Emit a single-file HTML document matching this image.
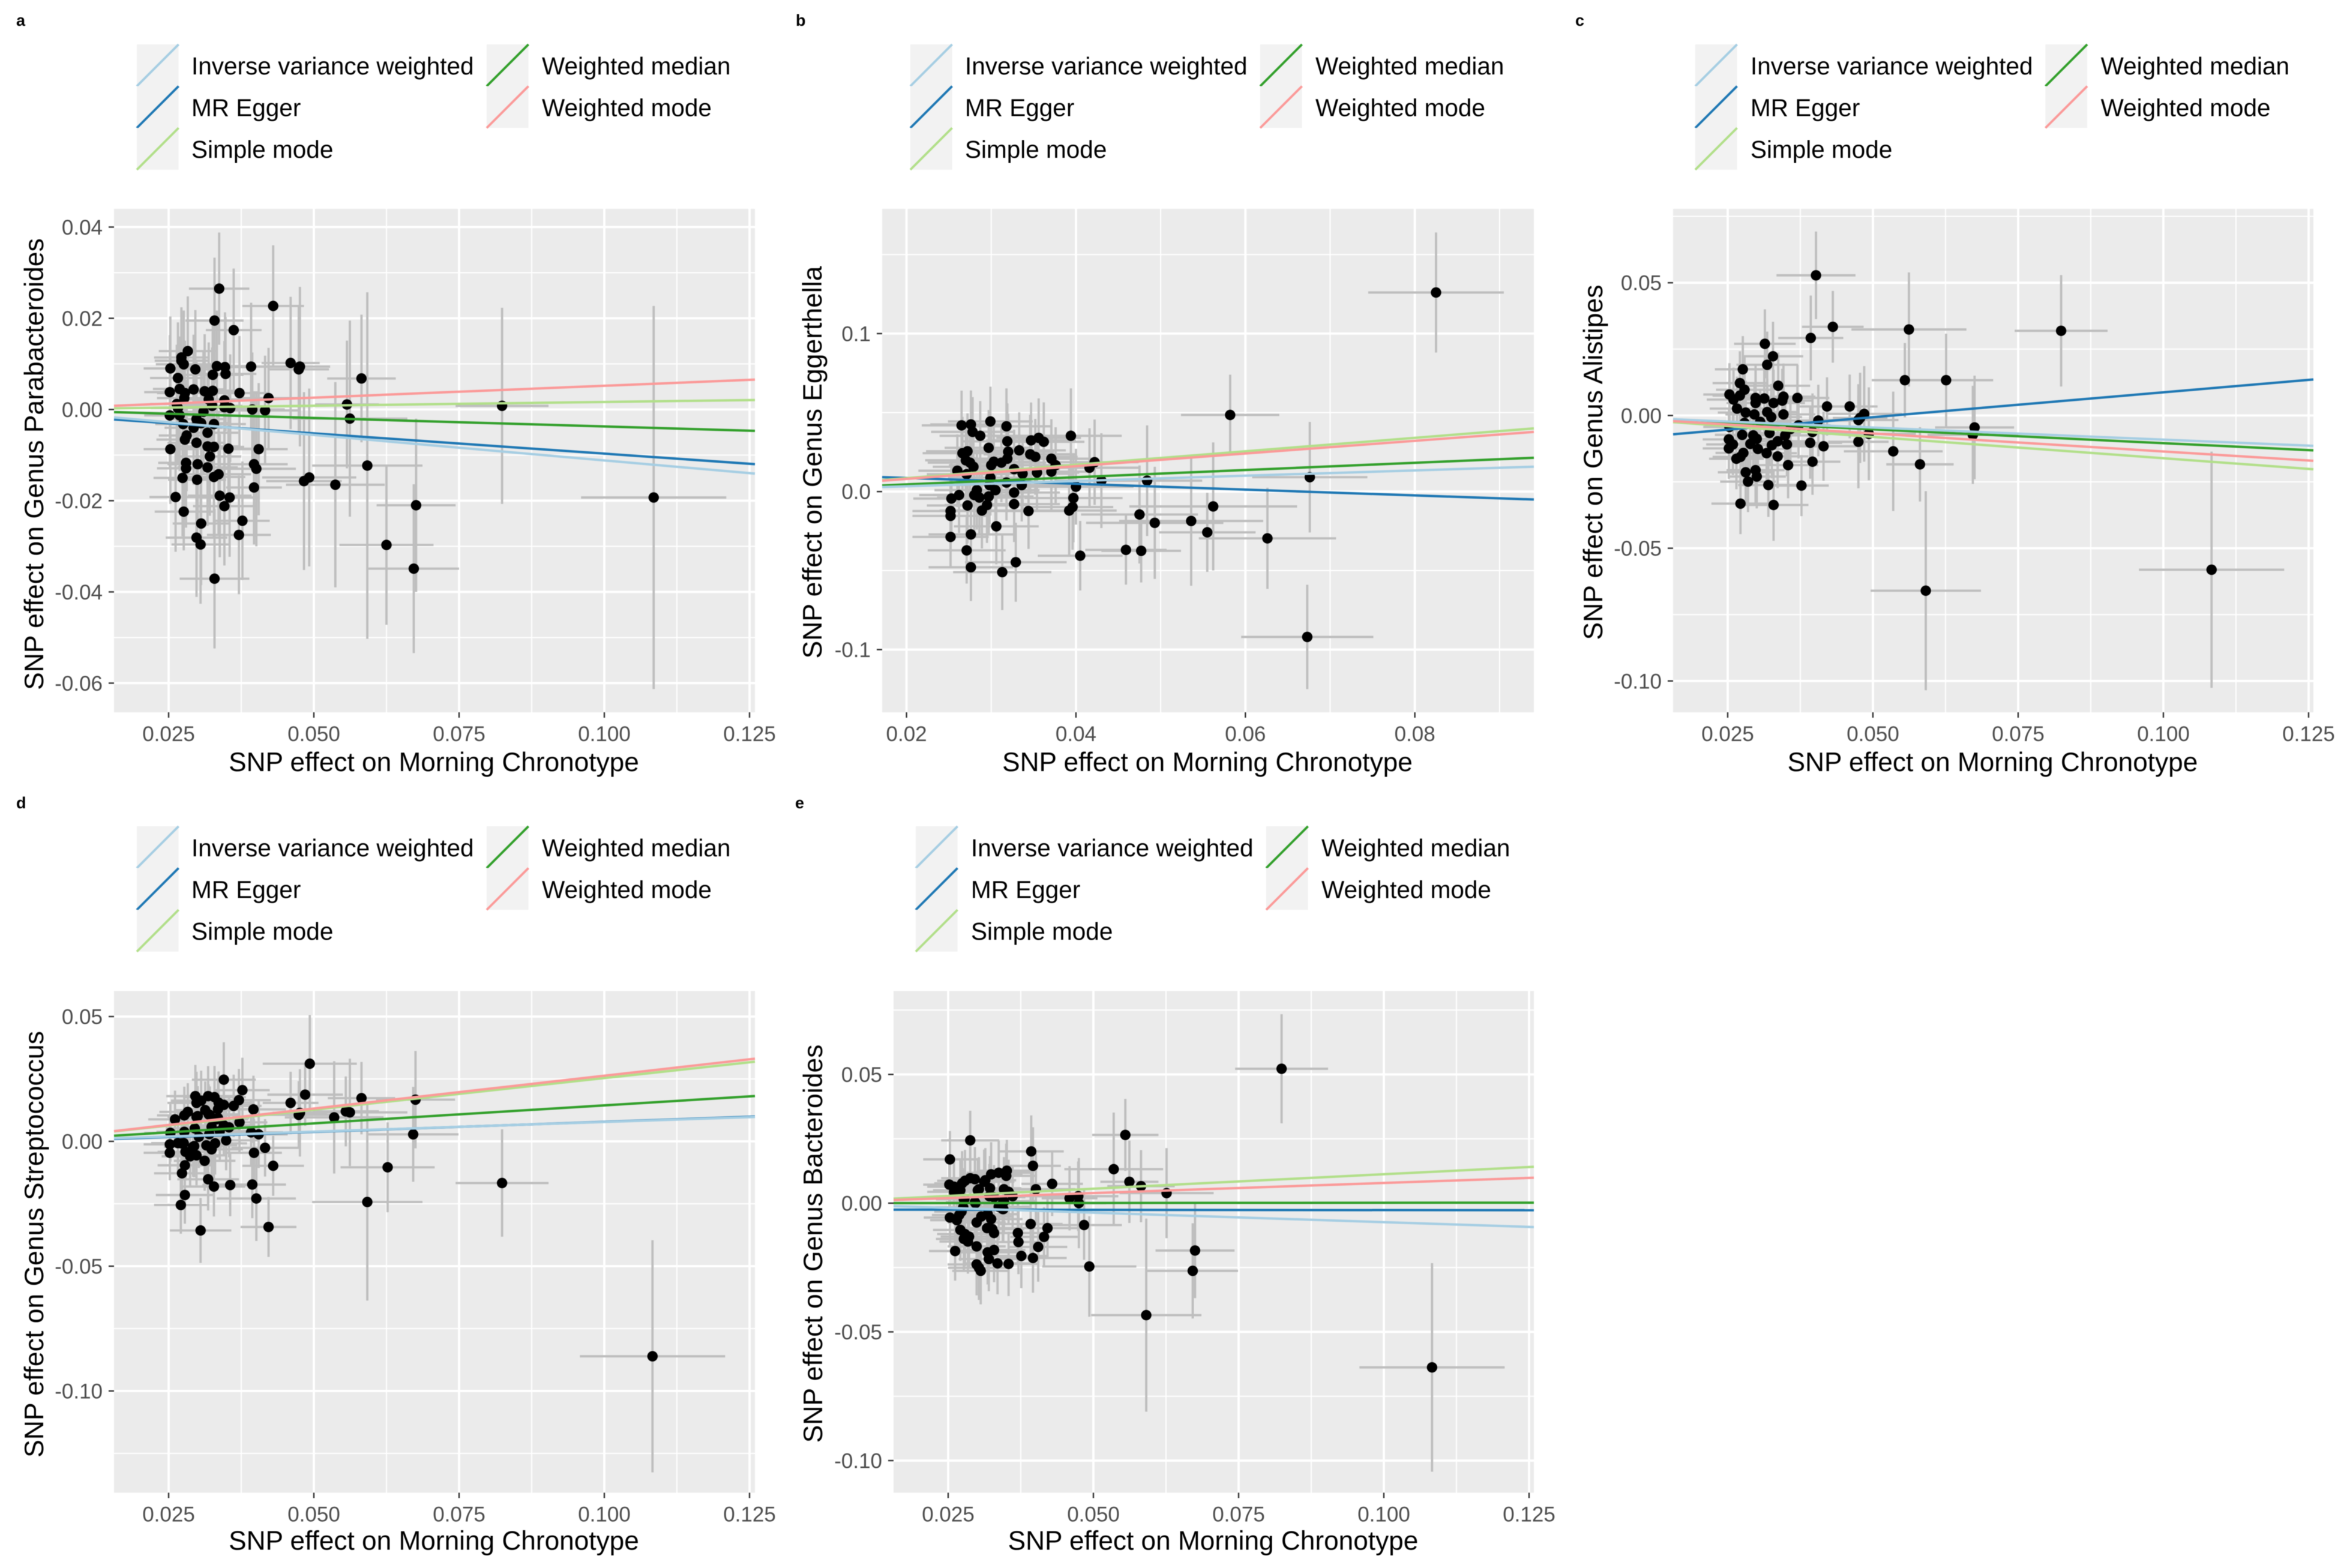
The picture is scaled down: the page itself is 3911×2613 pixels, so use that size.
<!DOCTYPE html>
<html lang="en">
<head>
<meta charset="utf-8">
<title>SNP effect scatter plots for Morning Chronotype</title>
<style>
html,body{margin:0;padding:0;background:#fff;}
svg{display:block;font-family:"Liberation Sans",Arial,sans-serif;filter:blur(0.6px);}
</style>
</head>
<body>
<svg id="figure" xmlns="http://www.w3.org/2000/svg" width="3911" height="2613" viewBox="0 0 3911 2613">
<rect x="0" y="0" width="3911" height="2613" fill="#ffffff"/>
</svg>
<script>
/* ---------- Panel a: Genus Parabacteroides ---------- */
const aX=[.0337,.0329,.0362,.0430,.0283,.0272,.0272,.0276,.0253,.0266,
.0296,.0333,.0326,.0347,.0348,.0392,.0460,.0476,.0474,.0582,
.0252,.0269,.0278,.0293,.0312,.0326,.0277,.0372,.0422,.0319,
.0346,.0557,.0824,.0264,.0266,.0325,.0346,.0356,.0394,.0416,
.0252,.0269,.0310,.0298,.0275,.0306,.0328,.0562,.0293,.0317,
.0281,.0278,.0298,.0317,.0328,.0253,.0353,.0405,.0321,.0280,
.0300,.0280,.0317,.0397,.0401,.0592,.0274,.0328,.0336,.0299,
.0483,.0492,.0537,.0397,.0262,.0338,.0355,.0346,.0276,.0377,
.0306,.0371,.0298,.0305,.0625,.0676,.0672,.0329,.1085];
const aY=[.0265,.0195,.0174,.0227,.0128,.0114,.0107,.0099,.0090,.0069,
.0088,.0095,.0076,.0093,.0078,.0094,.0102,.0094,.0088,.0068,
.0038,.0045,.0036,.0044,.0040,.0041,.0025,.0036,.0025,.0022,
.0020,.0011,.0008,.0012,.0003,.0008,.0005,.0003,.0000,-.0002,
-.0013,-.0013,-.0005,-.0021,-.0032,-.0030,-.0032,-.0020,-.0040,-.0051,
-.0057,-.0066,-.0073,-.0081,-.0082,-.0087,-.0086,-.0087,-.0103,-.0117,
-.0120,-.0129,-.0127,-.0120,-.0130,-.0123,-.0150,-.0148,-.0142,-.0154,
-.0157,-.0149,-.0165,-.0171,-.0192,-.0189,-.0193,-.0212,-.0224,-.0244,
-.0250,-.0275,-.0281,-.0296,-.0297,-.0210,-.0349,-.0371,-.0193];
const aXErr=[.0052,.0050,.0048,.0053,.0050,.0047,.0046,.0048,.0046,.0048,
.0050,.0055,.0053,.0052,.0053,.0056,.0050,.0052,.0052,.0059,
.0044,.0046,.0048,.0052,.0053,.0054,.0047,.0048,.0052,.0053,
.0055,.0055,.0080,.0046,.0047,.0052,.0055,.0050,.0056,.0058,
.0044,.0047,.0052,.0050,.0048,.0052,.0055,.0099,.0050,.0053,
.0048,.0049,.0050,.0054,.0052,.0046,.0050,.0050,.0054,.0048,
.0052,.0050,.0052,.0058,.0068,.0095,.0050,.0054,.0056,.0050,
.0065,.0081,.0085,.0048,.0045,.0055,.0052,.0054,.0050,.0047,
.0049,.0055,.0053,.0050,.0081,.0068,.0078,.0060,.0125];
const aYErr=[.0123,.0138,.0135,.0133,.0120,.0110,.0112,.0118,.0114,.0122,
.0130,.0122,.0128,.0120,.0125,.0140,.0145,.0175,.0140,.0140,
.0125,.0115,.0115,.0120,.0125,.0128,.0118,.0125,.0110,.0125,
.0130,.0140,.0215,.0130,.0125,.0128,.0132,.0118,.0125,.0120,
.0118,.0122,.0135,.0128,.0125,.0130,.0125,.0215,.0125,.0130,
.0122,.0125,.0128,.0130,.0132,.0120,.0130,.0145,.0130,.0125,
.0132,.0130,.0128,.0160,.0170,.0380,.0128,.0135,.0135,.0132,
.0195,.0195,.0225,.0125,.0120,.0135,.0130,.0130,.0085,.0130,
.0135,.0130,.0130,.0130,.0175,.0190,.0185,.0153,.0420];

/* ---------- Panel b: Genus Eggerthella ---------- */
const bX=[.0825,.0582,.0676,.0626,.0673,.0562,.0555,.0536,.0493,.0484,
.0477,.0475,.0459,.0430,.0422,.0416,.0405,.0400,.0397,.0396,
.0392,.0394,.0376,.0371,.0371,.0362,.0356,.0354,.0352,.0347,
.0344,.0346,.0333,.0337,.0336,.0329,.0327,.0327,.0327,.0319,
.0320,.0319,.0318,.0318,.0313,.0312,.0306,.0305,.0303,.0300,
.0299,.0297,.0299,.0298,.0295,.0289,.0297,.0287,.0283,.0280,
.0286,.0278,.0276,.0265,.0279,.0275,.0272,.0266,.0270,.0271,
.0260,.0262,.0253,.0272,.0252,.0252,.0252,.0276,.0271,.0276];
const bY=[.1260,.0485,.0091,-.0296,-.0920,-.0094,-.0258,-.0186,-.0198,.0069,
-.0375,-.0145,-.0369,.0069,.0186,.0151,-.0406,.0031,-.0041,-.0098,
-.0120,.0353,.0167,.0208,.0126,.0315,.0340,.0120,.0220,.0324,
-.0123,.0236,.0261,.0113,.0041,-.0447,.0142,-.0006,-.0079,.0318,
.0252,.0208,.0413,.0057,-.0510,.0183,-.0220,.0009,.0189,.0167,
.0444,.0277,.0088,.0041,-.0085,-.0120,-.0031,.0353,.0009,-.0022,
-.0038,.0378,.0425,.0419,.0157,.0183,.0255,.0243,.0198,.0110,
.0132,-.0022,-.0044,-.0088,-.0123,-.0154,-.0287,-.0271,-.0372,-.0479];
const bXErr=[.0080,.0058,.0068,.0081,.0078,.0099,.0057,.0085,.0081,.0065,
.0047,.0069,.0048,.0053,.0052,.0058,.0050,.0068,.0058,.0048,
.0056,.0060,.0047,.0055,.0048,.0048,.0050,.0050,.0050,.0053,
.0052,.0055,.0055,.0056,.0055,.0060,.0054,.0054,.0054,.0053,
.0054,.0052,.0053,.0052,.0058,.0053,.0050,.0052,.0052,.0050,
.0050,.0052,.0050,.0050,.0050,.0050,.0053,.0048,.0050,.0049,
.0050,.0049,.0048,.0047,.0048,.0050,.0049,.0047,.0048,.0047,
.0046,.0047,.0045,.0048,.0045,.0045,.0045,.0050,.0046,.0050];
const bYErr=[.0380,.0255,.0350,.0320,.0330,.0405,.0250,.0410,.0355,.0350,
.0200,.0310,.0220,.0300,.0270,.0250,.0220,.0240,.0280,.0270,
.0280,.0300,.0240,.0250,.0240,.0250,.0250,.0240,.0240,.0240,
.0240,.0250,.0240,.0240,.0230,.0250,.0250,.0230,.0240,.0240,
.0240,.0230,.0240,.0240,.0240,.0250,.0240,.0240,.0230,.0240,
.0220,.0240,.0240,.0250,.0240,.0240,.0240,.0220,.0250,.0240,
.0240,.0220,.0215,.0220,.0230,.0240,.0240,.0230,.0240,.0220,
.0230,.0240,.0230,.0240,.0220,.0230,.0190,.0230,.0210,.0214];

/* ---------- Panel c: Genus Alistipes ---------- */
const cX=[.0402,.0431,.0562,.0824,.0393,.0314,.0328,.0318,.0276,.0271,
.0555,.0626,.0279,.0337,.0253,.0271,.0260,.0298,.0313,.0346,
.0344,.0370,.0298,.0329,.0266,.0421,.0460,.0281,.0296,.0318,
.0346,.0325,.0485,.0478,.0475,.0406,.0253,.0279,.0306,.0372,
.0358,.0675,.0672,.0396,.0322,.0493,.0275,.0294,.0349,.0252,
.0300,.0336,.0259,.0289,.0475,.0392,.0252,.0352,.0415,.0302,
.0326,.0317,.0535,.0336,.0277,.0265,.0272,.0581,.0396,.0354,
.0281,.0298,.0300,.0285,.0320,.0377,.0272,.0329,.0591,.1083];
const cY=[.0528,.0334,.0324,.0319,.0292,.0270,.0223,.0191,.0174,.0122,
.0133,.0133,.0097,.0112,.0079,.0075,.0060,.0066,.0064,.0071,
.0056,.0066,.0047,.0047,.0026,.0034,.0034,.0011,.0004,.0013,
.0004,-.0006,.0006,-.0009,-.0017,-.0019,-.0043,-.0028,-.0024,-.0037,
-.0051,-.0045,-.0073,-.0062,-.0066,-.0069,-.0073,-.0075,-.0075,-.0090,
-.0088,-.0097,-.0109,-.0107,-.0099,-.0103,-.0124,-.0109,-.0116,-.0126,
-.0112,-.0142,-.0135,-.0154,-.0141,-.0163,-.0156,-.0184,-.0174,-.0187,
-.0214,-.0206,-.0230,-.0249,-.0262,-.0264,-.0332,-.0337,-.0660,-.0581];
const cXErr=[.0068,.0053,.0099,.0080,.0056,.0053,.0052,.0053,.0048,.0047,
.0057,.0081,.0049,.0055,.0045,.0047,.0046,.0050,.0052,.0055,
.0053,.0055,.0050,.0054,.0047,.0052,.0048,.0048,.0050,.0052,
.0055,.0053,.0065,.0047,.0069,.0068,.0045,.0048,.0052,.0055,
.0050,.0068,.0078,.0056,.0054,.0081,.0047,.0050,.0052,.0045,
.0050,.0055,.0046,.0049,.0052,.0055,.0045,.0052,.0058,.0050,
.0055,.0052,.0085,.0053,.0048,.0047,.0048,.0058,.0048,.0052,
.0048,.0050,.0050,.0048,.0052,.0047,.0050,.0060,.0095,.0125];
const cYErr=[.0165,.0135,.0215,.0210,.0160,.0130,.0130,.0125,.0125,.0120,
.0140,.0175,.0125,.0125,.0118,.0120,.0120,.0125,.0125,.0125,
.0120,.0125,.0125,.0125,.0120,.0110,.0120,.0120,.0120,.0125,
.0125,.0125,.0180,.0170,.0135,.0135,.0120,.0120,.0125,.0125,
.0125,.0195,.0185,.0145,.0125,.0175,.0120,.0120,.0125,.0115,
.0120,.0125,.0115,.0125,.0175,.0135,.0115,.0120,.0130,.0125,
.0125,.0125,.0225,.0120,.0125,.0115,.0120,.0140,.0125,.0125,
.0120,.0125,.0120,.0115,.0120,.0115,.0115,.0135,.0375,.0445];

/* ---------- Panel d: Genus Streptococcus ---------- */
const dX=[.0493,.0345,.0377,.0485,.0582,.0296,.0318,.0329,.0675,.0298,
.0371,.0336,.0306,.0362,.0345,.0396,.0460,.0283,.0261,.0277,
.0298,.0319,.0332,.0476,.0474,.0555,.0562,.0535,.0372,.0345,
.0324,.0354,.0277,.0253,.0295,.0392,.0405,.0671,.0302,.0349,
.0252,.0272,.0292,.0315,.0324,.0330,.0416,.0252,.0279,.0298,
.0287,.0397,.0312,.0278,.0430,.0627,.0273,.0318,.0328,.0356,
.0394,.0824,.0401,.0278,.0592,.0271,.0422,.0305,.1083,.0335,
.0313,.0321,.0335,.0300,.0266,.0276,.0294,.0320,.0338];
const dY=[.0311,.0247,.0205,.0187,.0173,.0181,.0181,.0177,.0167,.0154,
.0165,.0155,.0163,.0142,.0146,.0128,.0154,.0118,.0088,.0104,
.0098,.0108,.0088,.0114,.0106,.0120,.0116,.0096,.0076,.0064,
.0058,.0056,.0038,.0034,.0052,.0036,.0028,.0028,.0018,.0004,
-.0012,-.0008,-.0022,-.0016,-.0032,-.0008,-.0026,-.0046,-.0042,-.0056,
-.0060,-.0046,-.0078,-.0096,-.0098,-.0104,-.0128,-.0152,-.0181,-.0175,
-.0173,-.0167,-.0229,-.0215,-.0243,-.0255,-.0343,-.0357,-.0861,.0129,
.0125,.0105,.0093,.0101,-.0007,-.0007,-.0019,.0029,.0041];
const dXErr=[.0081,.0055,.0047,.0065,.0058,.0050,.0053,.0054,.0068,.0050,
.0055,.0055,.0052,.0048,.0053,.0056,.0048,.0049,.0046,.0047,
.0050,.0052,.0055,.0047,.0069,.0057,.0099,.0085,.0048,.0052,
.0053,.0050,.0048,.0045,.0050,.0055,.0050,.0078,.0052,.0055,
.0045,.0047,.0050,.0053,.0054,.0055,.0058,.0045,.0048,.0050,
.0049,.0048,.0053,.0047,.0053,.0081,.0048,.0053,.0054,.0048,
.0058,.0080,.0068,.0050,.0095,.0046,.0048,.0053,.0125,.0055,
.0052,.0053,.0054,.0050,.0046,.0048,.0050,.0053,.0055];
const dYErr=[.0195,.0150,.0130,.0125,.0145,.0125,.0120,.0125,.0195,.0125,
.0125,.0125,.0120,.0125,.0120,.0135,.0125,.0115,.0115,.0115,
.0120,.0120,.0120,.0175,.0135,.0140,.0215,.0225,.0125,.0120,
.0120,.0120,.0115,.0115,.0115,.0130,.0135,.0190,.0125,.0120,
.0110,.0115,.0120,.0120,.0125,.0125,.0115,.0110,.0115,.0120,
.0120,.0135,.0120,.0110,.0120,.0180,.0115,.0125,.0120,.0125,
.0135,.0215,.0170,.0115,.0395,.0115,.0120,.0130,.0465,.0120,
.0115,.0115,.0115,.0120,.0125,.0120,.0125,.0120,.0115];

/* ---------- Panel e: Genus Bacteroides ---------- */
const eX=[.0824,.0555,.0288,.0393,.0253,.0396,.0535,.0351,.0337,.0324,
.0350,.0312,.0296,.0279,.0274,.0562,.0429,.0582,.0252,.0260,
.0271,.0260,.0322,.0301,.0401,.0346,.0354,.0361,.0626,.0329,
.0459,.0474,.0475,.0297,.0277,.0346,.0337,.0344,.0273,.0253,
.0269,.0265,.0307,.0299,.0318,.0324,.0392,.0484,.0317,.0271,
.0421,.0326,.0329,.0370,.0279,.0286,.0277,.0415,.0284,.0371,
.0405,.0299,.0262,.0329,.0675,.0318,.0376,.0396,.0320,.0335,
.0354,.0299,.0493,.0303,.0306,.0671,.0591,.1083,.0288,.0314,
.0303,.0321,.0345,.0345,.0278,.0276,.0296];
const eY=[.0522,.0265,.0244,.0201,.0170,.0145,.0132,.0126,.0118,.0112,
.0106,.0083,.0093,.0087,.0077,.0083,.0075,.0066,.0072,.0064,
.0050,.0044,.0058,.0050,.0054,.0054,.0044,.0027,.0039,.0023,
.0019,.0027,.0000,.0000,.0015,.0006,-.0014,-.0023,-.0033,-.0056,
-.0046,-.0066,-.0052,-.0075,-.0043,-.0062,-.0081,-.0085,-.0097,-.0104,
-.0097,-.0101,-.0116,-.0116,-.0120,-.0130,-.0139,-.0131,-.0149,-.0151,
-.0170,-.0168,-.0186,-.0182,-.0184,-.0191,-.0205,-.0213,-.0217,-.0234,
-.0236,-.0238,-.0246,-.0251,-.0263,-.0263,-.0435,-.0638,.0097,.0089,
.0054,.0027,.0008,-.0023,.0016,-.0016,.0004];
const eXErr=[.0080,.0057,.0050,.0056,.0046,.0048,.0085,.0052,.0055,.0054,
.0053,.0052,.0050,.0048,.0048,.0050,.0053,.0058,.0045,.0046,
.0047,.0046,.0054,.0052,.0068,.0055,.0050,.0048,.0081,.0054,
.0048,.0069,.0047,.0050,.0048,.0055,.0056,.0052,.0047,.0045,
.0047,.0046,.0052,.0050,.0053,.0054,.0055,.0065,.0053,.0047,
.0052,.0055,.0054,.0055,.0048,.0049,.0048,.0058,.0049,.0047,
.0050,.0050,.0045,.0054,.0068,.0053,.0047,.0058,.0052,.0055,
.0052,.0050,.0081,.0053,.0049,.0078,.0095,.0125,.0050,.0053,
.0052,.0054,.0055,.0053,.0048,.0048,.0050];
const eYErr=[.0212,.0140,.0115,.0140,.0110,.0150,.0220,.0120,.0125,.0125,
.0125,.0125,.0125,.0120,.0125,.0160,.0125,.0140,.0110,.0115,
.0120,.0120,.0125,.0125,.0140,.0125,.0125,.0120,.0175,.0125,
.0125,.0135,.0175,.0125,.0120,.0125,.0130,.0125,.0120,.0115,
.0120,.0120,.0125,.0125,.0125,.0125,.0135,.0135,.0125,.0120,
.0115,.0130,.0125,.0125,.0125,.0125,.0125,.0115,.0125,.0125,
.0135,.0125,.0115,.0125,.0185,.0125,.0125,.0135,.0125,.0120,
.0125,.0120,.0195,.0125,.0130,.0185,.0375,.0405,.0125,.0125,
.0125,.0125,.0125,.0125,.0120,.0120,.0125];

/* ---------- Fitted methods (slope / intercept per panel) ---------- */
const methodNames=["Inverse variance weighted","MR Egger","Simple mode","Weighted median","Weighted mode"];
const aSlopes=[-.1117,-.0888,.0165,-.0372,.0520];
const aIntercepts=[0,-.0008,0,0,0];
const bSlopes=[.1674,-.1841,.4252,.2276,.4017];
const bIntercepts=[0,.0123,0,0,0];
const cSlopes=[-.0909,.1873,-.1610,-.1043,-.1356];
const cIntercepts=[0,-.0100,0,0,0];
const dSlopes=[.0776,.0813,.2534,.1441,.2629];
const dIntercepts=[0,-.0003,0,0,0];
const eSlopes=[-.0738,-.0020,.1123,.0015,.0784];
const eIntercepts=[0,-.0025,0,0,0];

/* ---------- Axis ticks ---------- */
const xTicks025=[.025,.05,.075,.1,.125];
const xTickLabels025=["0.025","0.050","0.075","0.100","0.125"];
const xMinor025=[.0375,.0625,.0875,.1125];
const xTicksB=[.02,.04,.06,.08];
const xTickLabelsB=["0.02","0.04","0.06","0.08"];
const xMinorB=[.03,.05,.07,.09];
const aYTicks=[.04,.02,0,-.02,-.04,-.06];
const aYLabels=["0.04","0.02","0.00","-0.02","-0.04","-0.06"];
const aYMinor=[.03,.01,-.01,-.03,-.05];
const bYTicks=[.1,0,-.1];
const bYLabels=["0.1","0.0","-0.1"];
const bYMinor=[.15,.05,-.05];
const cYTicks=[.05,0,-.05,-.1];
const cYLabels=["0.05","0.00","-0.05","-0.10"];
const cYMinor=[.075,.025,-.025,-.075];
const dYTicks=[.05,0,-.05,-.1];
const dYLabels=["0.05","0.00","-0.05","-0.10"];
const dYMinor=[.025,-.025,-.075,-.125];
const eYTicks=[.05,0,-.05,-.1];
const eYLabels=["0.05","0.00","-0.05","-0.10"];
const eYMinor=[.075,.025,-.025,-.075];

const METHOD_COLORS=["#a6cee3","#1f78b4","#b2df8a","#33a02c","#fb9a99"];
const METHOD_KEYS=["ivw","mr-egger","simple-mode","weighted-median","weighted-mode"];
const DRAW_ORDER=[1,3,0,2,4];
const svg=document.getElementById("figure");
const NS="http://www.w3.org/2000/svg";

function mk(parent,tag,attrs,text){
  const el=document.createElementNS(NS,tag);
  for(const k in attrs)el.setAttribute(k,attrs[k]);
  if(text!==undefined)el.textContent=text;
  parent.appendChild(el);
  return el;
}
function r(v){return Math.round(v*100)/100;}

function drawPanel(p){
  const g=mk(svg,"g",{});
  
  
  const sx=v=>p.xPix+(v-p.xRef)*p.kx;
  const sy=v=>p.yPix-v*p.ky;
  const invX=px=>p.xRef+(px-p.xPix)/p.kx;

  /* panel letter */
  const letter=mk(g,"text",{x:p.letterX,y:p.letterY,"font-size":27,"font-weight":"bold",fill:"#000"},p.id);
  
  

  /* legend */
  const legend=mk(g,"g",{});
  
  
  const KEY=69.6;
  const slots=[[p.lk1,p.lt1,0],[p.lk1,p.lt1,1],[p.lk1,p.lt1,2],[p.lk2,p.lt2,0],[p.lk2,p.lt2,1]];
  methodNames.forEach((name,i)=>{
    const kx=slots[i][0],tx=slots[i][1],row=slots[i][2];
    const ky=p.legendTop+row*KEY;
    const entry=mk(legend,"g",{});
    
    
    mk(entry,"rect",{x:kx,y:ky,width:KEY,height:KEY,fill:"#f2f2f2"});
    mk(entry,"line",{x1:kx,y1:ky+KEY,x2:kx+KEY,y2:ky,stroke:METHOD_COLORS[i],"stroke-width":3.8});
    mk(entry,"text",{x:tx,y:ky+KEY/2+15,"font-size":40.5,fill:"#000"},name);
  });

  /* panel background */
  const bg=mk(g,"rect",{x:p.L,y:p.T,width:p.R-p.L,height:p.B-p.T,fill:"#ebebeb"});
  
  

  /* gridlines */
  const grid=mk(g,"g",{});
  
  
  p.xMinor.forEach(v=>{if(sx(v)>p.L&&sx(v)<p.R)mk(grid,"line",{x1:r(sx(v)),x2:r(sx(v)),y1:p.T,y2:p.B,stroke:"#fff","stroke-width":2});});
  p.yMinor.forEach(v=>{if(sy(v)>p.T&&sy(v)<p.B)mk(grid,"line",{x1:p.L,x2:p.R,y1:r(sy(v)),y2:r(sy(v)),stroke:"#fff","stroke-width":2});});
  p.xTicks.forEach(v=>mk(grid,"line",{x1:r(sx(v)),x2:r(sx(v)),y1:p.T,y2:p.B,stroke:"#fff","stroke-width":3.8}));
  p.yTicks.forEach(v=>mk(grid,"line",{x1:p.L,x2:p.R,y1:r(sy(v)),y2:r(sy(v)),stroke:"#fff","stroke-width":3.8}));

  /* error bars */
  const bars=mk(g,"g",{stroke:"#bebebe","stroke-width":3.8});
  
  
  p.x.forEach((v,i)=>{
    const vb=mk(bars,"line",{x1:r(sx(v)),x2:r(sx(v)),y1:r(sy(p.y[i]+p.yErr[i])),y2:r(sy(p.y[i]-p.yErr[i]))});
    
    
    const hb=mk(bars,"line",{x1:r(sx(v-p.xErr[i])),x2:r(sx(v+p.xErr[i])),y1:r(sy(p.y[i])),y2:r(sy(p.y[i]))});
    
    
  });

  /* points */
  const pts=mk(g,"g",{fill:"#000"});
  
  
  p.x.forEach((v,i)=>{
    const c=mk(pts,"circle",{cx:r(sx(v)),cy:r(sy(p.y[i])),r:8.7});
    
    
  });

  /* method lines */
  const x0=invX(p.L),x1=invX(p.R);
  const lines=mk(g,"g",{});
  
  
  DRAW_ORDER.forEach(i=>{
    const s=p.slopes[i];
    const l=mk(lines,"line",{x1:p.L,x2:p.R,y1:r(sy(p.intercepts[i]+s*x0)),y2:r(sy(p.intercepts[i]+s*x1)),stroke:METHOD_COLORS[i],"stroke-width":4});
    
    
  });

  /* axes */
  const xAxis=mk(g,"g",{});
  
  
  p.xTicks.forEach((v,i)=>{
    mk(xAxis,"line",{x1:r(sx(v)),x2:r(sx(v)),y1:p.B,y2:p.B+9,stroke:"#333","stroke-width":2.4});
    const t=mk(xAxis,"text",{x:r(sx(v)),y:p.B+48,"text-anchor":"middle","font-size":35,fill:"#4d4d4d"},p.xLabels[i]);
    
    
  });
  const yAxis=mk(g,"g",{});
  
  
  p.yTicks.forEach((v,i)=>{
    mk(yAxis,"line",{x1:p.L-9,x2:p.L,y1:r(sy(v)),y2:r(sy(v)),stroke:"#333","stroke-width":2.4});
    const t=mk(yAxis,"text",{x:p.L-19,y:r(sy(v)+12.5),"text-anchor":"end","font-size":35,fill:"#4d4d4d"},p.yLabels[i]);
    
    
  });
  const xt=mk(g,"text",{x:(p.L+p.R)/2-1,y:p.B+p.xTitleOff,"text-anchor":"middle","font-size":44.2,fill:"#000"},"SNP effect on Morning Chronotype");
  
  
  const yc=(p.T+p.B)/2+3+p.yTitleShift;
  const yt=mk(g,"text",{x:p.yTitleX,y:yc,"text-anchor":"middle","font-size":44.5,fill:"#000",transform:"rotate(-90 "+p.yTitleX+" "+yc+")"},p.yTitle);
  
  
}

drawPanel({id:"a",L:190,R:1258,T:348,B:1187,xPix:281,xRef:.025,kx:9680,yPix:682.4,ky:7600,
  x:aX,y:aY,xErr:aXErr,yErr:aYErr,slopes:aSlopes,intercepts:aIntercepts,
  xTicks:xTicks025,xLabels:xTickLabels025,xMinor:xMinor025,yTicks:aYTicks,yLabels:aYLabels,yMinor:aYMinor,
  yTitle:"SNP effect on Genus Parabacteroides",yTitleX:72,yTitleShift:3,xTitleOff:98,
  letterX:27,letterY:43,legendTop:74,lk1:228,lt1:319,lk2:811,lt2:903});
drawPanel({id:"b",L:1470,R:2556,T:348,B:1187,xPix:1510.6,xRef:.02,kx:14118,yPix:819.2,ky:2633,
  x:bX,y:bY,xErr:bXErr,yErr:bYErr,slopes:bSlopes,intercepts:bIntercepts,
  xTicks:xTicksB,xLabels:xTickLabelsB,xMinor:xMinorB,yTicks:bYTicks,yLabels:bYLabels,yMinor:bYMinor,
  yTitle:"SNP effect on Genus Eggerthella",yTitleX:1369,yTitleShift:0,xTitleOff:98,
  letterX:1326,letterY:43,legendTop:74,lk1:1517,lt1:1608,lk2:2100,lt2:2192});
drawPanel({id:"c",L:2788,R:3855,T:348,B:1187,xPix:2879,xRef:.025,kx:9680,yPix:692.4,ky:4424,
  x:cX,y:cY,xErr:cXErr,yErr:cYErr,slopes:cSlopes,intercepts:cIntercepts,
  xTicks:xTicks025,xLabels:xTickLabels025,xMinor:xMinor025,yTicks:cYTicks,yLabels:cYLabels,yMinor:cYMinor,
  yTitle:"SNP effect on Genus Alistipes",yTitleX:2670,yTitleShift:0,xTitleOff:98,
  letterX:2625,letterY:43,legendTop:74,lk1:2825,lt1:2917,lk2:3408.5,lt2:3500.6});
drawPanel({id:"d",L:190,R:1258,T:1651.5,B:2487.5,xPix:281,xRef:.025,kx:9680,yPix:1902,ky:4160,
  x:dX,y:dY,xErr:dXErr,yErr:dYErr,slopes:dSlopes,intercepts:dIntercepts,
  xTicks:xTicks025,xLabels:xTickLabels025,xMinor:xMinor025,yTicks:dYTicks,yLabels:dYLabels,yMinor:dYMinor,
  yTitle:"SNP effect on Genus Streptococcus",yTitleX:72,yTitleShift:1,xTitleOff:95,
  letterX:27,letterY:1347,legendTop:1377,lk1:228,lt1:319,lk2:811,lt2:903});
drawPanel({id:"e",L:1489,R:2556,T:1651.5,B:2487.5,xPix:1580,xRef:.025,kx:9680,yPix:2005,ky:4290,
  x:eX,y:eY,xErr:eXErr,yErr:eYErr,slopes:eSlopes,intercepts:eIntercepts,
  xTicks:xTicks025,xLabels:xTickLabels025,xMinor:xMinor025,yTicks:eYTicks,yLabels:eYLabels,yMinor:eYMinor,
  yTitle:"SNP effect on Genus Bacteroides",yTitleX:1370,yTitleShift:0,xTitleOff:95,
  letterX:1325,letterY:1347,legendTop:1377,lk1:1526,lt1:1618,lk2:2110,lt2:2202});
</script>
</body>
</html>
